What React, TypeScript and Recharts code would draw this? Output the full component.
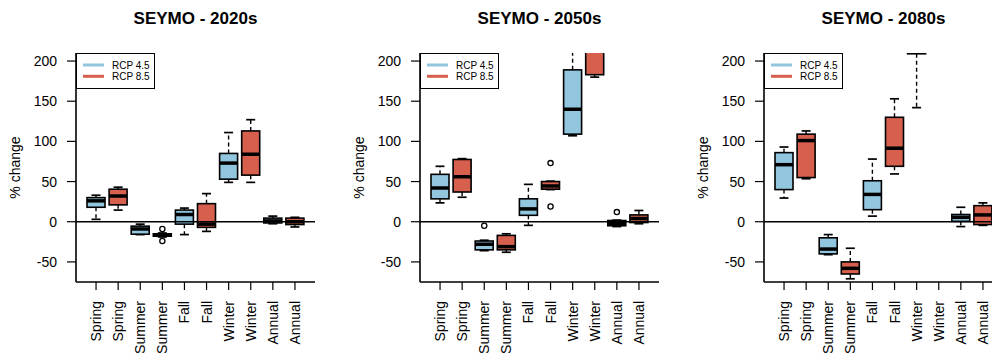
import React from 'react';
import { ComposedChart, Bar, Line, XAxis, YAxis, ReferenceLine } from 'recharts';

const FONT = '"Liberation Sans", Arial, Helvetica, sans-serif';

const site = 'SEYMO';
const periods = ['2020s', '2050s', '2080s'];
const categories = ['Spring', 'Spring', 'Summer', 'Summer', 'Fall', 'Fall', 'Winter', 'Winter', 'Annual', 'Annual'];
const scenarios = ['RCP 4.5', 'RCP 8.5'];
const scenarioColors = ['#92C5DE', '#D6604D'];
const yTicks = [-50, 0, 50, 100, 150, 200];
const yDomain = [-75, 210];

// 2020s
const min2020s = [3, 14.5, -16, -19, -16, -12, 49, 49, -2.5, -6.5];
const q1_2020s = [18, 21, -15.5, -18, -3, -7, 53, 58, -1.5, -3.5];
const med2020s = [26, 32, -9, -16.5, 9, -3, 73, 84, 1, 0];
const q3_2020s = [30, 40.5, -5.5, -15, 14.5, 22.5, 85, 113, 4.5, 4.5];
const max2020s = [33, 43, -3, -14, 17, 35, 111, 127, 7, 5.5];
const outA2020s = [null, null, null, -9, null, null, null, null, null, null];
const outB2020s = [null, null, null, -24, null, null, null, null, null, null];

// 2050s
const min2050s = [23.5, 30.5, -36, -38, -4.5, 40, 107, 180, -6, -2.5];
const q1_2050s = [28.5, 37, -35, -35, 8, 40.5, 109, 183, -5, -1];
const med2050s = [42, 56, -28, -31, 16, 44.5, 140, 230, -2, 4];
const q3_2050s = [59, 77.5, -24, -17, 28.5, 50, 189, 280, 1.5, 8.5];
const max2050s = [69, 78.5, -23, -15, 46.5, 50.5, 240, 330, 2, 14];
const outA2050s = [null, null, -5, null, null, 73, null, null, 12, null];
const outB2050s = [null, null, null, null, null, 19, null, null, null, null];

// 2080s
const min2080s = [29.5, 53.5, -41, -71, 7, 59.5, 142, 230, -6, -4.5];
const q1_2080s = [40, 55, -40, -65, 15, 69, 209, 260, 0.5, -3.5];
const med2080s = [71, 101, -34, -58, 34, 91.5, 250, 300, 5.5, 8.5];
const q3_2080s = [86, 109, -20, -50, 51, 130, 300, 350, 9, 20];
const max2080s = [93, 113, -16, -33, 78, 153, 350, 400, 18, 23.5];
const outA2080s = [null, null, null, null, null, null, null, null, null, null];
const outB2080s = [null, null, null, null, null, null, null, null, null, null];

const panelData = [
  { period: periods[0], mins: min2020s, q1s: q1_2020s, meds: med2020s, q3s: q3_2020s, maxs: max2020s, outA: outA2020s, outB: outB2020s },
  { period: periods[1], mins: min2050s, q1s: q1_2050s, meds: med2050s, q3s: q3_2050s, maxs: max2050s, outA: outA2050s, outB: outB2050s },
  { period: periods[2], mins: min2080s, q1s: q1_2080s, meds: med2080s, q3s: q3_2080s, maxs: max2080s, outA: outA2080s, outB: outB2080s },
];

const PANEL_W = 344;
const PANEL_H = 353;
const M = { top: 53, right: 29, bottom: 0, left: 16 };
const Y_W = 60;
const X_H = 71;
const PLOT_L = M.left + Y_W;
const PLOT_W = PANEL_W - PLOT_L - M.right;
const TICK_FS = 14;

const WhiskerLow = (props: any) => {
  const { x, y, width, height } = props;
  const cx = x + width / 2;
  const bottom = y + height;
  return (
    <g>
      <line x1={cx} x2={cx} y1={y} y2={bottom} stroke="#000" strokeWidth={1.4} strokeDasharray="4 3" />
      <line x1={cx - width / 4} x2={cx + width / 4} y1={bottom} y2={bottom} stroke="#000" strokeWidth={1.7} />
    </g>
  );
};

const WhiskerHigh = (props: any) => {
  const { x, y, width, height } = props;
  const cx = x + width / 2;
  const bottom = y + height;
  return (
    <g>
      <line x1={cx} x2={cx} y1={bottom} y2={y} stroke="#000" strokeWidth={1.4} strokeDasharray="4 3" />
      <line x1={cx - width / 4} x2={cx + width / 4} y1={y} y2={y} stroke="#000" strokeWidth={1.7} />
    </g>
  );
};

const BoxShape = (props: any) => {
  const { x, y, width, height, index } = props;
  return (
    <rect x={x} y={y} width={width} height={height} fill={scenarioColors[index % 2]} stroke="#000" strokeWidth={1.6} />
  );
};

const MedianShape = (props: any) => {
  const { x, y, width } = props;
  return <line x1={x} x2={x + width} y1={y} y2={y} stroke="#000" strokeWidth={3.5} />;
};

const OutlierDot = (props: any) => {
  const { cx, cy, value, index } = props;
  if (value === null || value === undefined || cx == null || cy == null) return <g key={`o-${index}`} />;
  return <circle key={`o-${index}`} cx={cx} cy={cy} r={2.6} fill="none" stroke="#000" strokeWidth={1.3} />;
};

const XTick = (props: any) => {
  const { x, y, payload } = props;
  return (
    <text
      x={x}
      y={y}
      transform={`rotate(-90 ${x} ${y})`}
      textAnchor="end"
      dy="0.36em"
      fontSize={TICK_FS}
      fontFamily={FONT}
      fill="#000"
    >
      {categories[Number(payload.value)]}
    </text>
  );
};

const YLabel = (props: any) => {
  const vb = props.viewBox || { x: M.left, y: M.top, width: Y_W, height: 229 };
  const cx = 20;
  const cy = vb.y + vb.height / 2;
  return (
    <text x={cx} y={cy} transform={`rotate(-90 ${cx} ${cy})`} textAnchor="middle" fontSize={TICK_FS} fontFamily={FONT} fill="#000">
      % change
    </text>
  );
};

const LegendBox = () => (
  <div
    style={{
      position: 'absolute',
      left: PLOT_L - 0.5,
      top: M.top - 0.5,
      width: 79,
      height: 36,
      border: '1.5px solid #000',
      boxSizing: 'border-box',
      background: '#fff',
    }}
  >
    <svg width={77} height={34} style={{ position: 'absolute', left: 0, top: 0 }}>
      {scenarios.map((s, i) => (
        <g key={s}>
          <line x1={6} x2={27} y1={11 + i * 11.3} y2={11 + i * 11.3} stroke={scenarioColors[i]} strokeWidth={3} />
          <text x={35} y={11 + i * 11.3} dy="0.36em" fontSize={10} fontFamily={FONT} fill="#000">
            {s}
          </text>
        </g>
      ))}
    </svg>
  </div>
);

function Panel({ p }: { p: any }) {
  const rows = categories.map((c, i) => ({
    key: String(i),
    cat: c,
    min: p.mins[i],
    q1: p.q1s[i],
    med: p.meds[i],
    q3: p.q3s[i],
    max: p.maxs[i],
    outA: p.outA[i],
    outB: p.outB[i],
  }));
  return (
    <div style={{ position: 'relative', width: PANEL_W, height: PANEL_H, flex: '0 0 auto' }}>
      <div
        style={{
          position: 'absolute',
          left: PLOT_L,
          width: PLOT_W,
          top: 9,
          lineHeight: '20px',
          textAlign: 'center',
          fontFamily: FONT,
          fontWeight: 'bold',
          fontSize: 17,
          color: '#000',
          whiteSpace: 'nowrap',
        }}
      >
        {site} - {p.period}
      </div>
      <ComposedChart width={PANEL_W} height={PANEL_H} data={rows} margin={M} barSize={18} barGap={-18}>
        <XAxis
          dataKey="key"
          type="category"
          padding={{ left: 9, right: 9 }}
          height={X_H}
          interval={0}
          tickSize={8}
          tickMargin={11}
          tick={<XTick />}
          tickLine={{ stroke: '#000', strokeWidth: 1.2 }}
          axisLine={{ stroke: '#000', strokeWidth: 1.6 }}
        />
        <XAxis
          xAxisId="top"
          dataKey="key"
          orientation="top"
          height={0}
          tick={false}
          tickLine={false}
          axisLine={{ stroke: '#000', strokeWidth: 1.6 }}
        />
        <YAxis
          type="number"
          domain={yDomain}
          allowDataOverflow
          ticks={yTicks}
          interval={0}
          width={Y_W}
          tickSize={9}
          tickMargin={10}
          tick={{ fontSize: TICK_FS, fill: '#000', fontFamily: FONT }}
          tickLine={{ stroke: '#000', strokeWidth: 1.2 }}
          axisLine={{ stroke: '#000', strokeWidth: 1.6 }}
          label={YLabel}
        />
        <YAxis
          yAxisId="right"
          orientation="right"
          type="number"
          domain={yDomain}
          allowDataOverflow
          width={0}
          tick={false}
          tickLine={false}
          axisLine={{ stroke: '#000', strokeWidth: 1.6 }}
        />
        <Bar dataKey={(d: any) => [d.min, d.q1]} shape={WhiskerLow} isAnimationActive={false} />
        <Bar dataKey={(d: any) => [d.q3, d.max]} shape={WhiskerHigh} isAnimationActive={false} />
        <Bar dataKey={(d: any) => [d.q1, d.q3]} shape={BoxShape} isAnimationActive={false} />
        <Bar dataKey={(d: any) => [d.q1, d.med]} shape={MedianShape} isAnimationActive={false} />
        <Line dataKey="outA" stroke="none" dot={OutlierDot} activeDot={false} isAnimationActive={false} connectNulls={false} />
        <Line dataKey="outB" stroke="none" dot={OutlierDot} activeDot={false} isAnimationActive={false} connectNulls={false} />
        <ReferenceLine y={0} stroke="#000" strokeWidth={1.3} />
      </ComposedChart>
      <LegendBox />
    </div>
  );
}

export default function App() {
  return (
    <div
      style={{
        position: 'absolute',
        left: 0,
        top: 0,
        width: 992,
        height: 353,
        overflow: 'hidden',
        background: '#fff',
        display: 'flex',
        flexDirection: 'row',
      }}
    >
      {panelData.map((p) => (
        <Panel key={p.period} p={p} />
      ))}
    </div>
  );
}
